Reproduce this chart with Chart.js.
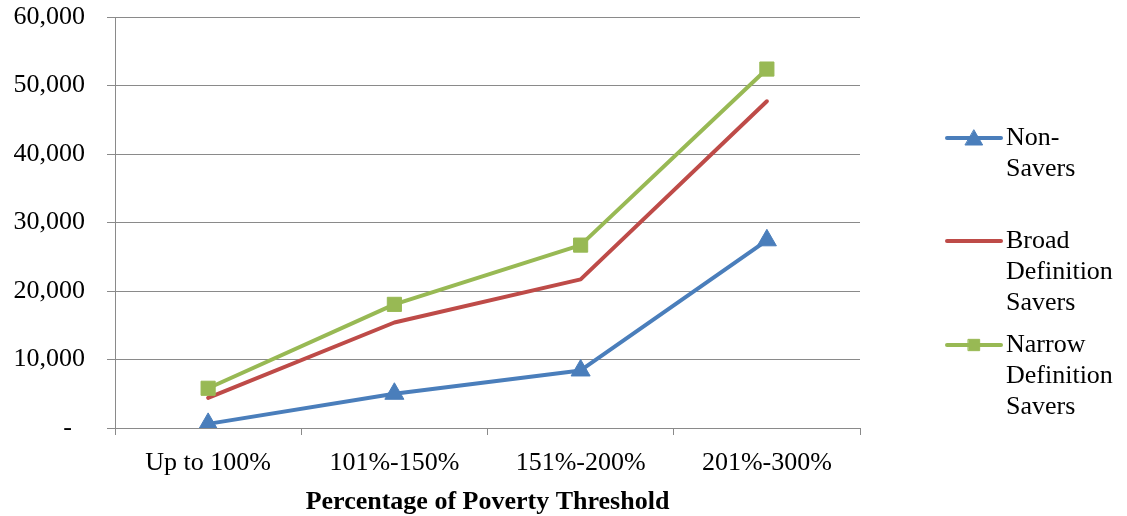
<!DOCTYPE html>
<html>
<head>
<meta charset="utf-8">
<script src="https://cdn.jsdelivr.net/npm/chart.js@4"></script>
<style>
  html, body { margin: 0; padding: 0; background: #fff; }
  #wrap { position: relative; width: 1127px; height: 516px; }
</style>
</head>
<body>
<div id="wrap"><canvas id="c" width="1127" height="516"></canvas></div>
<script>
const categories = ["Up to 100%", "101%-150%", "151%-200%", "201%-300%"];
const nonSavers = [600, 5000, 8400, 27400];
const broadSavers = [4400, 15400, 21700, 47700];
const narrowSavers = [5800, 18050, 26700, 52400];
const seriesNames = [["Non-", "Savers"], ["Broad", "Definition", "Savers"], ["Narrow", "Definition", "Savers"]];
const yTicks = [0, 10000, 20000, 30000, 40000, 50000, 60000];
const xTitle = "Percentage of Poverty Threshold";

const FONT = "'Liberation Serif', 'Times New Roman', Times, serif";
const GRID = '#8a8a8a';
const BLUE = '#4A7EBB', RED = '#BE4B48', GREEN = '#98B954';

const legendPlugin = {
  id: 'sideLegend',
  afterDraw(chart) {
    const ctx = chart.ctx;
    const items = [{ idx: 0, y: 138 }, { idx: 1, y: 241 }, { idx: 2, y: 345 }];
    ctx.save();
    items.forEach(it => {
      const ds = chart.data.datasets[it.idx];
      ctx.strokeStyle = ds.borderColor;
      ctx.lineWidth = 4;
      ctx.lineCap = 'round';
      ctx.beginPath();
      ctx.moveTo(947, it.y);
      ctx.lineTo(1001, it.y);
      ctx.stroke();
      if (ds.pointRadius > 0) {
        ctx.fillStyle = ds.pointBackgroundColor;
        ctx.strokeStyle = ds.pointBackgroundColor;
        ctx.lineWidth = 1;
        const tri = ds.pointStyle === 'triangle';
        Chart.helpers.drawPoint(ctx, {
          pointStyle: ds.pointStyle,
          radius: tri ? 10 : 8,
          borderWidth: 1,
          rotation: 0
        }, 974, tri ? it.y + 2 : it.y);
      }
      ctx.fillStyle = '#000';
      ctx.font = '26px ' + FONT;
      ctx.textAlign = 'left';
      ctx.textBaseline = 'middle';
      seriesNames[it.idx].forEach((line, k) => {
        ctx.fillText(line, 1006, it.y + k * 31);
      });
    });
    ctx.restore();
  }
};

const fmt = v => v === 0 ? '-\u2007' : v.toLocaleString('en-US');

new Chart(document.getElementById('c'), {
  type: 'line',
  data: {
    labels: categories,
    datasets: [
      {
        label: seriesNames[0].join(' '),
        data: nonSavers,
        borderColor: BLUE,
        backgroundColor: BLUE,
        pointBackgroundColor: BLUE,
        pointBorderColor: BLUE,
        pointStyle: 'triangle',
        pointRadius: 11,
        pointBorderWidth: 1,
        borderWidth: 4,
        tension: 0,
        borderJoinStyle: 'round',
        borderCapStyle: 'round',
        order: 3
      },
      {
        label: seriesNames[1].join(' '),
        data: broadSavers,
        borderColor: RED,
        backgroundColor: RED,
        pointBackgroundColor: RED,
        pointRadius: 0,
        borderWidth: 4,
        tension: 0,
        borderJoinStyle: 'round',
        borderCapStyle: 'round',
        order: 2
      },
      {
        label: seriesNames[2].join(' '),
        data: narrowSavers,
        borderColor: GREEN,
        backgroundColor: GREEN,
        pointBackgroundColor: GREEN,
        pointBorderColor: GREEN,
        pointStyle: 'rect',
        pointRadius: 10,
        pointBorderWidth: 1,
        borderWidth: 4,
        tension: 0,
        borderJoinStyle: 'round',
        borderCapStyle: 'round',
        order: 1
      }
    ]
  },
  options: {
    responsive: false,
    animation: false,
    events: [],
    layout: { padding: { top: 0, right: 267, left: 0, bottom: 0 } },
    plugins: {
      legend: { display: false },
      tooltip: { enabled: false },
      title: { display: false }
    },
    scales: {
      x: {
        type: 'category',
        offset: true,
        grid: {
          offset: true,
          drawOnChartArea: false,
          drawTicks: true,
          tickLength: 7,
          color: GRID,
          lineWidth: 1
        },
        border: { display: true, color: GRID, width: 1 },
        ticks: {
          color: '#000',
          font: { family: FONT, size: 26 },
          padding: 13,
          maxRotation: 0,
          autoSkip: false
        },
        title: {
          display: true,
          text: xTitle,
          color: '#000',
          font: { family: FONT, size: 26, weight: 'bold' },
          padding: { top: 0, bottom: -2 }
        },
        afterFit(scale) { scale.height = 88; scale.paddingLeft = 0; scale.paddingRight = 0; }
      },
      y: {
        min: 0,
        max: 60000,
        afterBuildTicks(scale) { scale.ticks = yTicks.map(v => ({ value: v })); },
        grid: {
          drawOnChartArea: true,
          drawTicks: true,
          tickLength: 8,
          color: GRID,
          lineWidth: 1
        },
        border: { display: true, color: GRID, width: 1 },
        ticks: {
          color: '#000',
          font: { family: FONT, size: 26 },
          padding: 22,
          callback: (v) => fmt(v)
        },
        afterFit(scale) { scale.width = 115; scale.paddingTop = 17; scale.paddingBottom = 0; }
      }
    }
  },
  plugins: [legendPlugin]
});
</script>
</body>
</html>
